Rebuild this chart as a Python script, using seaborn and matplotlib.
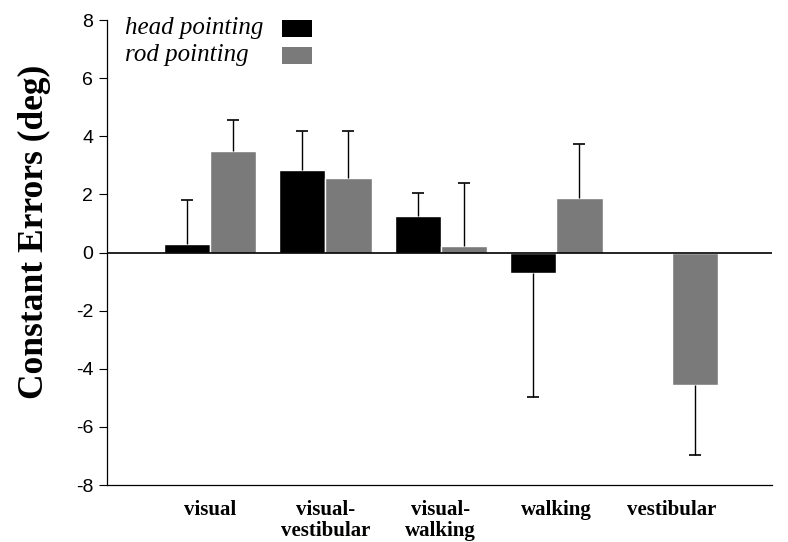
import matplotlib
matplotlib.use("Agg")
import matplotlib.pyplot as plt
from matplotlib.patches import Rectangle
import numpy as np
import pandas as pd
import seaborn as sns

# condition categories (x axis)
conditions = ["visual", "visual-\nvestibular", "visual-\nwalking", "walking", "vestibular"]
series = ["head pointing", "rod pointing"]

# mean constant errors (deg)
head_mean = [0.3, 2.85, 1.25, -0.72, np.nan]
rod_mean = [3.5, 2.55, 0.23, 1.88, -4.56]

# one-sided error bar lengths (away from zero)
head_err = [1.5, 1.35, 0.8, 4.25, np.nan]
rod_err = [1.05, 1.65, 2.17, 1.85, 2.4]

colors = ["#000000", "#7a7a7a"]

df = pd.DataFrame({
    "condition": conditions * 2,
    "method": [series[0]] * len(conditions) + [series[1]] * len(conditions),
    "value": head_mean + rod_mean,
    "err": head_err + rod_err,
})

sns.set_theme(style="white")
plt.rcParams["font.family"] = ["Liberation Serif", "DejaVu Serif"]
plt.rcParams.update({"text.color": "black", "axes.labelcolor": "black",
                     "xtick.color": "black", "ytick.color": "black"})

fig = plt.figure(figsize=(7.88, 5.42), dpi=100)
ax = fig.add_axes([0.136, 0.105, 0.844, 0.858])

sns.barplot(data=df, x="condition", y="value", hue="method",
            order=conditions, hue_order=series, palette=colors,
            width=0.8, saturation=1, ax=ax, legend=False)

# one-sided error bars (stem + end cap only)
for cont, name in zip(ax.containers, series):
    sub = df[df["method"] == name].set_index("condition").loc[conditions]
    for patch, val, err in zip(cont.patches, sub["value"], sub["err"]):
        if np.isnan(val):
            continue
        x = patch.get_x() + patch.get_width() / 2
        end = val + err if val >= 0 else val - err
        ax.vlines(x, val, end, color="black", lw=1, zorder=1)
        ax.plot([x], [end], marker="_", markersize=9, mew=1.2, color="black", zorder=1)

ax.axhline(0, color="black", lw=1.2, zorder=3)

ax.set_ylim(-8, 8)
ax.set_xlim(-0.89, 4.87)
ax.set_yticks(np.arange(-8, 9, 2))
ax.set_yticklabels([f"{v:d}" for v in range(-8, 9, 2)],
                   family="Liberation Sans", fontsize=14)
ax.tick_params(axis="y", left=True, direction="out", length=6, width=0.8,
               color="black", pad=4)
ax.tick_params(axis="x", bottom=False, pad=5)
for lab in ax.get_xticklabels():
    lab.set_fontweight("bold")
    lab.set_fontsize(15)
    lab.set_linespacing(1.05)

for side in ["top", "right"]:
    ax.spines[side].set_visible(False)
for side in ["left", "bottom"]:
    ax.spines[side].set_color("black")
    ax.spines[side].set_linewidth(0.9)

ax.set_xlabel("")
ax.set_ylabel("Constant Errors (deg)", fontsize=25.5, fontweight="bold")
ax.yaxis.set_label_coords(-0.084, 0.545)

# legend: left-aligned italic labels with swatches to their right
leg_font = {"family": "Liberation Serif", "style": "italic", "size": 18}
for i, (name, col) in enumerate(zip(series, colors)):
    y = 0.982 - i * 0.058
    ax.text(0.027, y, name, transform=ax.transAxes, ha="left", va="center", **leg_font)
    ax.add_patch(Rectangle((0.263, y - 0.018), 0.045, 0.036, transform=ax.transAxes,
                           facecolor=col, edgecolor="none", clip_on=False))

fig.savefig("out.png", dpi=100)
